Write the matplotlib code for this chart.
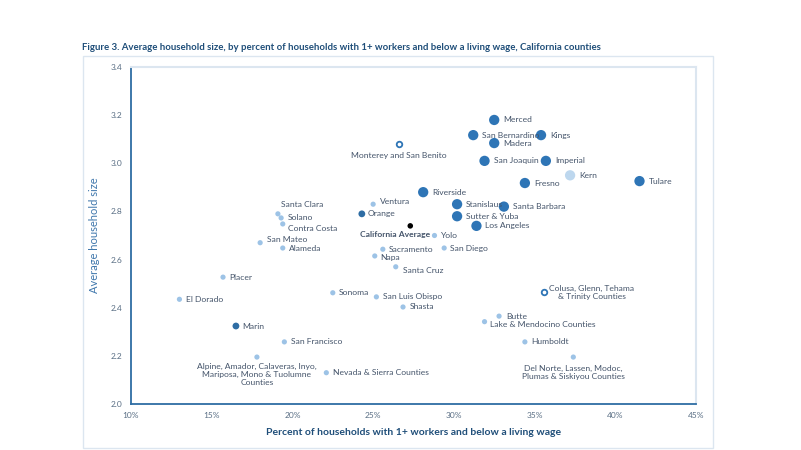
import matplotlib
matplotlib.use("Agg")
import matplotlib.pyplot as plt
from matplotlib.patches import Rectangle
from matplotlib.ticker import PercentFormatter

# county groups, percent of households with 1+ workers below living wage, avg household size
names = ["Merced", "San Bernardino", "Kings", "Madera", "Monterey and San Benito",
         "San Joaquin", "Imperial", "Kern", "Fresno", "Tulare", "Riverside", "Ventura",
         "Stanislaus", "Santa Barbara", "Orange", "Sutter & Yuba", "Santa Clara", "Solano",
         "Contra Costa", "California Average", "Los Angeles", "Yolo", "San Mateo", "Alameda",
         "Sacramento", "San Diego", "Napa", "Santa Cruz", "Placer", "Sonoma",
         "San Luis Obispo", "El Dorado",
         "Colusa, Glenn, Tehama\n& Trinity Counties", "Shasta", "Butte",
         "Lake & Mendocino Counties", "Marin", "San Francisco", "Humboldt",
         "Alpine, Amador, Calaveras, Inyo,\nMariposa, Mono & Tuolumne\nCounties",
         "Del Norte, Lassen, Modoc,\nPlumas & Siskiyou Counties",
         "Nevada & Sierra Counties"]
pct = [32.5, 31.2, 35.4, 32.5, 26.6, 31.9, 35.7, 37.2, 34.4, 41.5, 28.1, 25.0,
       30.2, 33.1, 24.3, 30.2, 19.1, 19.3, 19.4, 27.3, 31.4, 28.8, 18.0, 19.4,
       25.6, 29.4, 25.1, 26.4, 15.7, 22.5, 25.2, 13.0, 35.6, 26.85, 32.8, 31.9,
       16.5, 19.5, 34.4, 17.8, 37.4, 22.1]
hh_size = [3.18, 3.117, 3.117, 3.084, 3.08, 3.01, 3.01, 2.95, 2.918, 2.926, 2.88, 2.83,
           2.83, 2.82, 2.79, 2.78, 2.79, 2.773, 2.748, 2.74, 2.74, 2.70, 2.67, 2.648,
           2.643, 2.648, 2.615, 2.57, 2.527, 2.462, 2.445, 2.435, 2.465, 2.403, 2.365, 2.342,
           2.324, 2.258, 2.258, 2.195, 2.195, 2.13]
group = ["high", "high", "high", "high", "open", "high", "high", "kern", "high", "high",
         "high", "low", "high", "high", "mid", "high", "low", "low", "low", "avg", "high",
         "low", "low", "low", "low", "low", "low", "low", "low", "low", "low", "low",
         "open", "low", "low", "low", "mid", "low", "low", "low", "low", "low"]

x_ticks = [10, 15, 20, 25, 30, 35, 40, 45]
y_ticks = [2.0, 2.2, 2.4, 2.6, 2.8, 3.0, 3.2, 3.4]

# marker styles per group
styles = {
    "high": dict(s=55, c="#2E75B6", edgecolors="none"),
    "kern": dict(s=55, c="#BDD7EE", edgecolors="none"),
    "mid": dict(s=24, c="#2E6DA4", edgecolors="none"),
    "low": dict(s=14, c="#9DC3E6", edgecolors="none"),
    "open": dict(s=16, c="white", edgecolors="#2E75B6", linewidths=1.3),
    "avg": dict(s=16, c="black", edgecolors="none"),
}

# label placement (offset points, ha, va); default is to the right
label_pos = {
    "Monterey and San Benito": ((0, -6), "center", "top"),
    "Ventura": ((5, 2), "left", "center"),
    "Santa Clara": ((2, 4), "left", "bottom"),
    "Contra Costa": ((4, -3), "left", "center"),
    "California Average": ((-11, -4), "center", "top"),
    "San Mateo": ((5, 2), "left", "center"),
    "Napa": ((4, -1), "left", "center"),
    "Santa Cruz": ((5, -3), "left", "center"),
    "Colusa, Glenn, Tehama\n& Trinity Counties": ((34, 0), "center", "center"),
    "Butte": ((5, 0), "left", "center"),
    "Lake & Mendocino Counties": ((4, -2), "left", "center"),
    "Alpine, Amador, Calaveras, Inyo,\nMariposa, Mono & Tuolumne\nCounties": ((0, -4), "center", "top"),
    "Del Norte, Lassen, Modoc,\nPlumas & Siskiyou Counties": ((0, -6), "center", "top"),
}

plt.rcParams['font.family'] = ['Lato', 'DejaVu Sans']

fig = plt.figure(figsize=(8.01, 4.5), dpi=100)
ax = fig.add_axes([131 / 801, 1 - 404 / 450, (696 - 131) / 801, (404 - 67) / 450])

# outer chart frame
fig.patches.append(Rectangle((83 / 801, 1 - 448 / 450), 630 / 801, 392 / 450,
                             transform=fig.transFigure, fill=False,
                             edgecolor="#DCE6F0", linewidth=1))

for g, st in styles.items():
    xs = [p for p, gg in zip(pct, group) if gg == g]
    ys = [h for h, gg in zip(hh_size, group) if gg == g]
    ax.scatter(xs, ys, zorder=3, **st)

for n, x, y, g in zip(names, pct, hh_size, group):
    big = g in ("high", "kern")
    off, ha, va = label_pos.get(n, ((6.5 if big else 4.5, 0), "left", "center"))
    ax.annotate(n, (x, y), xytext=off, textcoords="offset points", ha=ha, va=va,
                fontsize=6.1, color="#44546A", linespacing=1.15,
                fontweight="bold" if g == "avg" else "normal")

ax.set_xlim(10, 45)
ax.set_ylim(2.0, 3.4)
ax.set_xticks(x_ticks)
ax.set_yticks(y_ticks)
ax.xaxis.set_major_formatter(PercentFormatter(decimals=0))
ax.yaxis.set_major_formatter(matplotlib.ticker.FormatStrFormatter("%.1f"))
ax.tick_params(length=0, labelsize=6, colors="#596E84", pad=6)

for side in ("left", "bottom"):
    ax.spines[side].set_color("#2E6DA4")
    ax.spines[side].set_linewidth(1.3)
for side in ("top", "right"):
    ax.spines[side].set_color("#DCE6F0")
    ax.spines[side].set_linewidth(1.5)

ax.set_ylabel("Average household size", fontsize=8, color="#3F77AC", labelpad=8)
ax.set_xlabel("Percent of households with 1+ workers and below a living wage",
              fontsize=7.5, fontweight="bold", color="#1F4E79", labelpad=6)

fig.text(82 / 801, 1 - 47 / 450,
         "Figure 3. Average household size, by percent of households with 1+ workers "
         "and below a living wage, California counties",
         fontsize=6.95, fontweight="bold", color="#1F4E79", va="center")

fig.savefig("out.png", dpi=100)
